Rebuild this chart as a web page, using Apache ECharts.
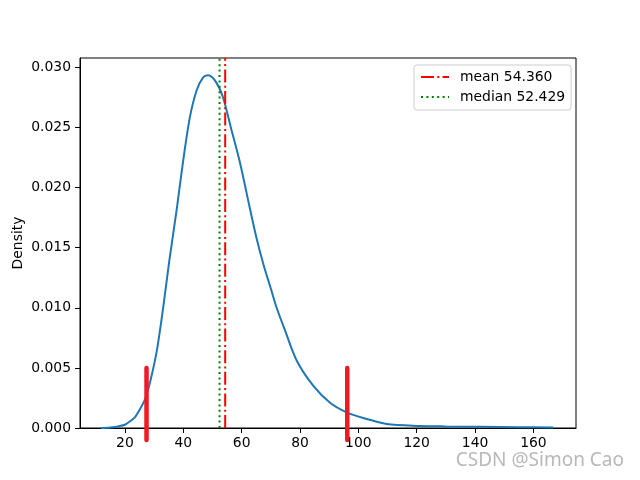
<!DOCTYPE html>
<html>
<head>
<meta charset="utf-8">
<script src="https://cdn.jsdelivr.net/npm/echarts@6/dist/echarts.min.js"></script>
<style>html,body{margin:0;padding:0;background:#fff;}#c{width:640px;height:480px;}</style>
</head>
<body>
<div id="c"></div>
<script>
// KDE curve
const kdeX = [11.8, 15, 18, 20, 22, 23.4, 25, 26.9, 28.6, 30.9, 33.1, 35.2, 37.7, 40, 42.3, 44.6, 46.8, 48.4, 50.9, 53.5, 56.3, 59.5, 62.8, 65.2, 67.6, 70, 72, 74.9, 78.9, 84.6, 90.3, 96, 101.7, 109.7, 121, 130, 141.7, 155, 166.8];
const kdeY = [0.0000, 0.00005, 0.00015, 0.00027, 0.0006, 0.00088, 0.0015, 0.0024, 0.0038, 0.0064, 0.0100, 0.0139, 0.0181, 0.0223, 0.0259, 0.0281, 0.02917, 0.02935, 0.0289, 0.0276, 0.0250, 0.0220, 0.0183, 0.0157, 0.0135, 0.0116, 0.0100, 0.0081, 0.0056, 0.0035, 0.0021, 0.0013, 0.00083, 0.00033, 0.00017, 0.00013, 0.0001, 0.00007, 0.00004];
const meanVal = 54.360;
const medianVal = 52.429;
const markerX = [27.4, 96.2];
const markerYRange = [-0.001, 0.005];
const xTicks = [20, 40, 60, 80, 100, 120, 140, 160];
const yTicks = [0, 0.005, 0.010, 0.015, 0.020, 0.025, 0.030];
const xRange = [4.6, 174.6];
const yRange = [0, 0.03078];

const chart = echarts.init(document.getElementById('c'), null, {renderer: 'canvas'});
const font = 'DejaVu Sans';
const kdeData = kdeX.map((x, i) => [x, kdeY[i]]);
const series = [
  {
    name: 'kde', type: 'line', data: kdeData, symbol: 'none', smooth: 0.3,
    lineStyle: {color: '#1f77b4', width: 2}, z: 3, silent: true
  },
  {
    name: 'mean ' + meanVal.toFixed(3), type: 'line', symbol: 'none',
    data: [[meanVal, yRange[0]], [meanVal, yRange[1]]],
    lineStyle: {color: '#ff0000', width: 2, type: [13, 3.3, 2, 3.3]}, itemStyle: {color: '#ff0000'}, z: 4
  },
  {
    name: 'median ' + medianVal.toFixed(3), type: 'line', symbol: 'none',
    data: [[medianVal, yRange[0]], [medianVal, yRange[1]]],
    lineStyle: {color: '#008000', width: 2, type: [2, 3.4]}, itemStyle: {color: '#008000'}, z: 4
  }
];
markerX.forEach((mx, i) => {
  series.push({
    name: 'marker' + i, type: 'line', symbol: 'none', clip: false,
    data: [[mx, markerYRange[0]], [mx, markerYRange[1]]],
    lineStyle: {color: '#ed1c24', width: 4.5, cap: 'round'}, z: 5, silent: true
  });
});

chart.setOption({
  animation: false,
  backgroundColor: '#fff',
  grid: {left: 80, right: 64, top: 58, bottom: 52, show: true, borderColor: '#000', borderWidth: 1, backgroundColor: 'transparent'},
  xAxis: {
    type: 'value', min: xRange[0], max: xRange[1], splitLine: {show: false},
    axisLine: {show: true, onZero: false, lineStyle: {color: '#000', width: 1}},
    axisTick: {show: true, length: 5, lineStyle: {color: '#000'}, customValues: xTicks},
    axisLabel: {color: '#000', fontFamily: font, fontSize: 13.9, margin: 8, customValues: xTicks, formatter: v => String(Math.round(v))}
  },
  yAxis: {
    type: 'value', min: yRange[0], max: yRange[1], splitLine: {show: false},
    name: 'Density', nameLocation: 'middle', nameGap: 55, nameMoveOverlap: false,
    nameTextStyle: {color: '#000', fontFamily: font, fontSize: 13.9},
    axisLine: {show: true, onZero: false, lineStyle: {color: '#000', width: 1}},
    axisTick: {show: true, length: 5, lineStyle: {color: '#000'}, customValues: yTicks},
    axisLabel: {color: '#000', fontFamily: font, fontSize: 13.9, margin: 9, customValues: yTicks, formatter: v => v.toFixed(3)}
  },
  legend: {
    data: ['mean ' + meanVal.toFixed(3), 'median ' + medianVal.toFixed(3)],
    orient: 'vertical', left: 414, top: 65,
    padding: [5, 6, 6, 6], itemGap: 6, itemWidth: 28, itemHeight: 14,
    itemStyle: {opacity: 0},
    backgroundColor: '#fff', borderColor: '#cccccc', borderWidth: 1, borderRadius: 3,
    textStyle: {color: '#000', fontFamily: font, fontSize: 13.9, padding: [0, 0, 0, 6]}
  },
  graphic: [{
    type: 'text', right: 16, top: 451,
    style: {text: 'CSDN @Simon Cao', fill: '#b8b8b8', font: '19px "Noto Sans"'}
  }],
  series: series
});
</script>
</body>
</html>
